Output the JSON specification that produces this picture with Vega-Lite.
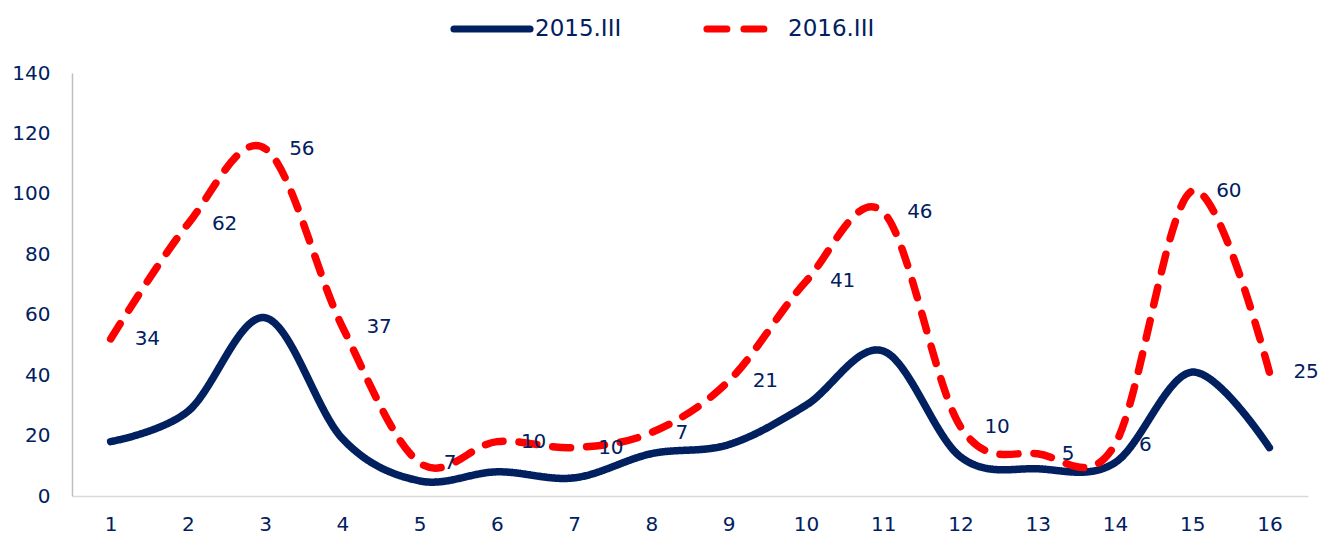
{
  "$schema": "https://vega.github.io/schema/vega-lite/v6.json",
  "width": 1236,
  "height": 423,
  "autosize": {"type": "none"},
  "padding": {"left": 72, "top": 73, "right": 12, "bottom": 43},
  "background": "white",
  "config": {
    "view": {"stroke": null},
    "font": "DejaVu Sans",
    "axis": {"labelFont": "DejaVu Sans", "labelFontSize": 20, "labelColor": "#002060", "ticks": false, "grid": false, "title": null}
  },
  "data": {
    "values": [
      {"x": 1, "series": "2015.III", "value": 18},
      {"x": 2, "series": "2015.III", "value": 28},
      {"x": 3, "series": "2015.III", "value": 59},
      {"x": 4, "series": "2015.III", "value": 19},
      {"x": 5, "series": "2015.III", "value": 5},
      {"x": 6, "series": "2015.III", "value": 8},
      {"x": 7, "series": "2015.III", "value": 6},
      {"x": 8, "series": "2015.III", "value": 14},
      {"x": 9, "series": "2015.III", "value": 17},
      {"x": 10, "series": "2015.III", "value": 30},
      {"x": 11, "series": "2015.III", "value": 48},
      {"x": 12, "series": "2015.III", "value": 13},
      {"x": 13, "series": "2015.III", "value": 9},
      {"x": 14, "series": "2015.III", "value": 11},
      {"x": 15, "series": "2015.III", "value": 41},
      {"x": 16, "series": "2015.III", "value": 16},
      {"x": 1, "series": "2016.III", "value": 52, "label": 34},
      {"x": 2, "series": "2016.III", "value": 90, "label": 62},
      {"x": 3, "series": "2016.III", "value": 115, "label": 56},
      {"x": 4, "series": "2016.III", "value": 56, "label": 37},
      {"x": 5, "series": "2016.III", "value": 11, "label": 7},
      {"x": 6, "series": "2016.III", "value": 18, "label": 10},
      {"x": 7, "series": "2016.III", "value": 16, "label": 10},
      {"x": 8, "series": "2016.III", "value": 21, "label": 7},
      {"x": 9, "series": "2016.III", "value": 38, "label": 21},
      {"x": 10, "series": "2016.III", "value": 71, "label": 41},
      {"x": 11, "series": "2016.III", "value": 94, "label": 46},
      {"x": 12, "series": "2016.III", "value": 23, "label": 10},
      {"x": 13, "series": "2016.III", "value": 14, "label": 5},
      {"x": 14, "series": "2016.III", "value": 17, "label": 6},
      {"x": 15, "series": "2016.III", "value": 101, "label": 60},
      {"x": 16, "series": "2016.III", "value": 41, "label": 25}
    ]
  },
  "encoding": {
    "x": {
      "field": "x", "type": "ordinal",
      "scale": {"type": "point", "padding": 0.5},
      "axis": {"labelAngle": 0, "labelPadding": 18, "domainColor": "#d9d9d9", "domainWidth": 1.5}
    },
    "y": {
      "field": "value", "type": "quantitative",
      "scale": {"domain": [0, 140], "nice": false},
      "axis": {"values": [0, 20, 40, 60, 80, 100, 120, 140], "labelPadding": 22, "domainColor": "#bfbfbf", "domainWidth": 1.5}
    }
  },
  "layer": [
    {
      "mark": {"type": "line", "interpolate": "cardinal", "strokeWidth": 7.5, "strokeCap": "round", "strokeJoin": "round"},
      "encoding": {
        "color": {
          "field": "series", "type": "nominal",
          "scale": {"domain": ["2015.III", "2016.III"], "range": ["#002060", "#ff0000"]},
          "legend": {
            "orient": "none", "legendX": 378, "legendY": -86, "direction": "horizontal",
            "title": null, "symbolType": "stroke", "symbolSize": 5800, "symbolStrokeWidth": 7,
            "labelFont": "DejaVu Sans", "labelFontSize": 23, "labelColor": "#002060",
            "labelOffset": 1, "columnPadding": 70,
            "encode": {
              "symbols": {
                "update": {
                  "strokeDash": {"signal": "datum.value === '2016.III' ? [20, 17, 20, 60] : [1, 0]"},
                  "strokeCap": {"value": "round"}
                }
              }
            }
          }
        },
        "strokeDash": {
          "condition": {"test": "datum.series === '2016.III'", "value": [18, 16]},
          "value": [1, 0]
        }
      }
    },
    {
      "transform": [{"filter": "datum.series === '2016.III'"}],
      "mark": {"type": "text", "align": "left", "baseline": "middle", "dx": 24, "fontSize": 20, "color": "#002060", "font": "DejaVu Sans"},
      "encoding": {"text": {"field": "label", "type": "quantitative"}}
    }
  ]
}
